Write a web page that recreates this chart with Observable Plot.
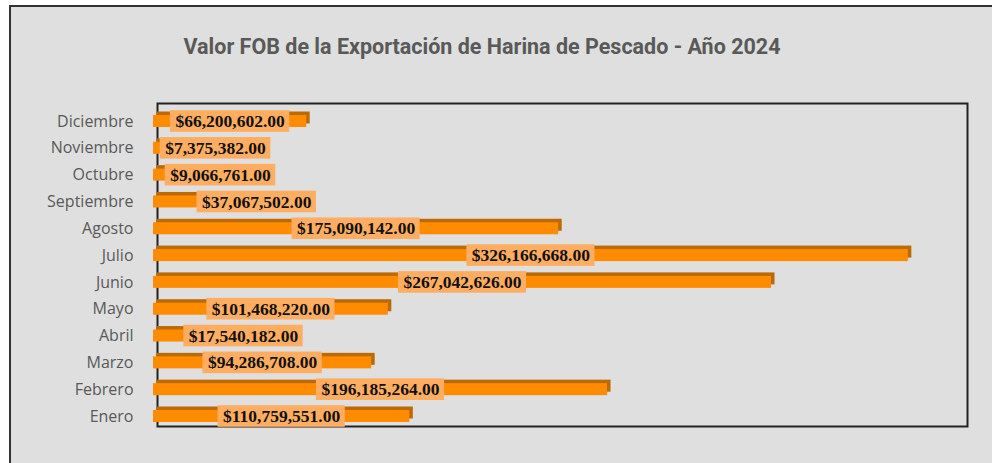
<!DOCTYPE html>
<html>
<head>
<meta charset="utf-8">
<script src="https://cdn.jsdelivr.net/npm/d3@7"></script>
<script src="https://cdn.jsdelivr.net/npm/@observablehq/plot@0.6"></script>
<style>
  html, body { margin: 0; padding: 0; background: #ffffff; }
  #wrap { position: relative; width: 992px; height: 463px; overflow: hidden; }
  #bg { position: absolute; left: 9px; top: 5px; width: 1000px; height: 500px; border: 2px solid #333; background: #dfdfdf; }
  #title { position: absolute; left: 0; top: 35px; width: 964px; text-align: center; line-height: 24px;
           font-family: Roboto, sans-serif; font-weight: bold; font-size: 21.5px; color: #595959; }
  #chart { position: absolute; left: 0; top: 0; }
</style>
</head>
<body>
<div id="wrap">
  <div id="bg"></div>
  <div id="chart"></div>
  <div id="title">Valor FOB de la Exportación de Harina de Pescado - Año 2024</div>
</div>
<script>
const months = ["Enero","Febrero","Marzo","Abril","Mayo","Junio","Julio","Agosto","Septiembre","Octubre","Noviembre","Diciembre"];
const values = [110759551, 196185264, 94286708, 17540182, 101468220, 267042626, 326166668, 175090142, 37067502, 9066761, 7375382, 66200602];
// where the data labels sit (in value units); null = centred on the bar, as in the reference
const labelAt = [null, null, null, 38900000, null, null, null, null, 44600000, 28950000, 26800000, null];

const data = months.map((m, i) => ({m, v: values[i], at: labelAt[i] ?? values[i] / 2}));
const fmt = v => "$" + d3.format(",.2f")(v);
const labelSize = 17.5;
const labelFont = `bold ${labelSize}px 'Liberation Serif'`;
const ctx = document.createElement("canvas").getContext("2d");
ctx.font = labelFont;

const boxMarks = data.map(d => {
  const w = ctx.measureText(fmt(d.v)).width + 10;
  return Plot.barX([d], {
    x1: "at", x2: "at", y: "m",
    insetLeft: -w / 2, insetRight: -w / 2, insetTop: 2.6, insetBottom: 2.6,
    fill: "#ffad60"
  });
});

const chart = Plot.plot({
  width: 992,
  height: 463,
  marginLeft: 153,
  marginRight: 29,
  marginTop: 107.6,
  marginBottom: 33.6,
  style: {background: "transparent", overflow: "visible"},
  x: {domain: [0, 350000000], axis: null},
  y: {domain: months.slice().reverse(), padding: 0, round: false, label: null, axis: null},
  marks: [
    Plot.frame({stroke: "#222", strokeWidth: 2, insetLeft: 4, insetRight: -4, insetTop: -4.6, insetBottom: 3.4}),
    Plot.axisY({tickSize: 0, tickPadding: 20, label: null, fontSize: 16, fill: "#595959",
                fontFamily: "'Open Sans', sans-serif"}),
    Plot.barX(data, {x: "v", y: "m", insetTop: 7.4, insetBottom: 7.4, dx: 3.5, dy: -3.5, fill: "#bd6a06"}),
    Plot.barX(data, {x: "v", y: "m", insetTop: 7.4, insetBottom: 7.4, fill: "#ff8c00"}),
    ...boxMarks,
    Plot.text(data, {x: "at", y: "m", text: d => fmt(d.v), fill: "#111",
      fontFamily: "'Liberation Serif', serif", fontWeight: "bold", fontSize: labelSize})
  ]
});
document.getElementById("chart").appendChild(chart);
</script>
</body>
</html>
